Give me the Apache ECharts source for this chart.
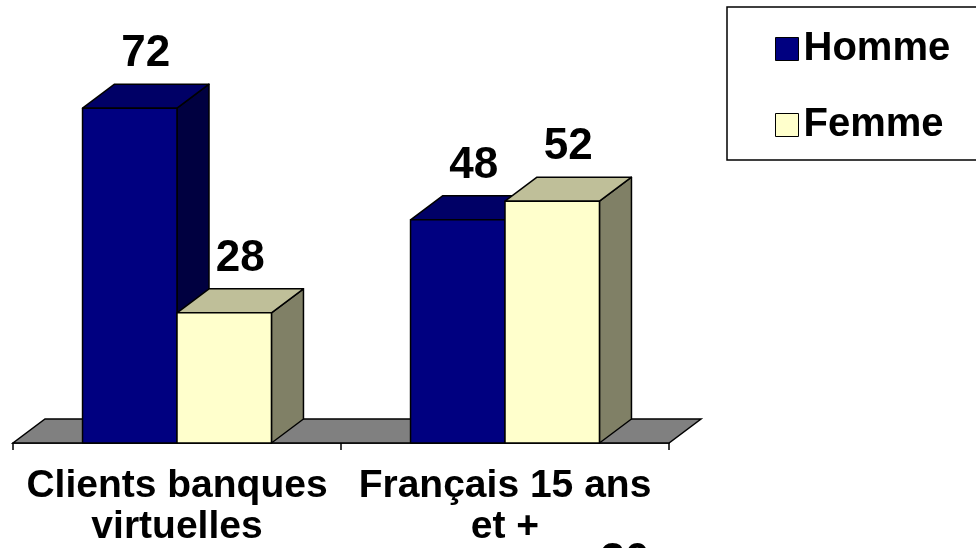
<!DOCTYPE html>
<html lang="fr">
<head>
	<meta charset="UTF-8">
	<title>Clients banques virtuelles</title>
	<script src="https://cdn.jsdelivr.net/npm/echarts@6/dist/echarts.min.js"></script>
	<style>
		html, body { margin: 0; padding: 0; background: #fff; }
	</style>
</head>
<body>
	<div id="main" style="width:976px; height:548px"></div>
	<script>
		// donnees
		var categories = ["Clients banques\nvirtuelles", "Français 15 ans\net +"];
		var homme = [72, 48];
		var femme = [28, 52];

		var FONT = "'Liberation Sans', Arial, sans-serif";
		var DX = 32, DY = 24;   // profondeur 3D
		var BAR = 0.288;        // largeur barre / largeur categorie

		// boite 3D : face avant, dessus, cote
		function box(shift, topCol, sideCol) {
			return function (params, api) {
				var idx = api.value(0);
				var val = api.value(1);
				var base = api.coord([idx, 0]);
				var top = api.coord([idx, val]);
				var w = api.size([1, 0])[0] * BAR;
				var x0 = base[0] + shift * w;
				var x1 = x0 + w;
				var yb = base[1], yt = top[1];
				var line = { stroke: "#000", lineWidth: 1.5, lineJoin: "round" };
				return {
					type: "group",
					children: [
						{ type: "polygon", shape: { points: [[x1, yb], [x1 + DX, yb - DY], [x1 + DX, yt - DY], [x1, yt]] },
						  style: Object.assign({ fill: sideCol }, line) },
						{ type: "polygon", shape: { points: [[x0, yt], [x1, yt], [x1 + DX, yt - DY], [x0 + DX, yt - DY]] },
						  style: Object.assign({ fill: topCol }, line) },
						{ type: "rect", shape: { x: x0, y: yt, width: w, height: yb - yt },
						  style: Object.assign({ fill: api.visual("color") }, line) },
						{ type: "text", x: (x0 + x1) / 2 + DX / 2, y: yt - DY - 30,
						  style: { text: String(val), fill: "#000", font: "bold 44px " + FONT,
						           align: "center", verticalAlign: "middle" } }
					]
				};
			};
		}

		function floor(params, api) {
			var bw = api.size([1, 0])[0];
			var a = api.coord([0, 0]);
			var b = api.coord([categories.length - 1, 0]);
			var L = a[0] - bw / 2, R = b[0] + bw / 2, y = a[1];
			return {
				type: "polygon",
				shape: { points: [[L, y], [R, y], [R + DX, y - DY], [L + DX, y - DY]] },
				style: { fill: "#808080", stroke: "#000", lineWidth: 1.5 }
			};
		}

		var myChart = echarts.init(document.getElementById("main"));
		myChart.setOption({
			animation: false,
			grid: { left: 13, right: 307, top: 71, bottom: 105 },
			legend: {
				data: ["Homme", "Femme"],
				orient: "vertical",
				left: 727, top: 7,
				padding: [22, 30, 15, 48],
				itemGap: 36,
				itemWidth: 23, itemHeight: 23,
				icon: "rect",
				itemStyle: { borderColor: "#000", borderWidth: 1 },
				borderColor: "#000", borderWidth: 1.5,
				textStyle: { fontSize: 40, fontWeight: "bold", color: "#000", fontFamily: FONT, lineHeight: 40 }
			},
			xAxis: {
				type: "category",
				data: categories,
				axisLine: { show: true, lineStyle: { color: "#000", width: 1.5 } },
				axisTick: { show: true, interval: 0, alignWithLabel: false, length: 7,
				            lineStyle: { color: "#000", width: 1.5 } },
				axisLabel: { interval: 0, fontSize: 39, fontWeight: "bold", color: "#000", fontFamily: FONT,
				             lineHeight: 41, margin: 23, hideOverlap: false }
			},
			yAxis: { type: "value", min: 0, max: 80, show: false, splitLine: { show: false } },
			series: [
				{ name: "sol", type: "custom", z: 1, renderItem: floor, data: [[0, 0]], silent: true },
				{ name: "Homme", type: "custom", z: 2, itemStyle: { color: "#000080" },
				  renderItem: box(-1, "#000066", "#000040"),
				  data: homme.map(function (v, i) { return [i, v]; }) },
				{ name: "Femme", type: "custom", z: 3, itemStyle: { color: "#FFFFCC" },
				  renderItem: box(0, "#BFBF99", "#808066"),
				  data: femme.map(function (v, i) { return [i, v]; }) }
			],
			graphic: [
				{ type: "text", x: 625, y: 540, silent: true,
				  style: { text: "30", fill: "#000", font: "bold 44px " + FONT, align: "center", verticalAlign: "top" } }
			]
		});
	</script>
</body>
</html>
